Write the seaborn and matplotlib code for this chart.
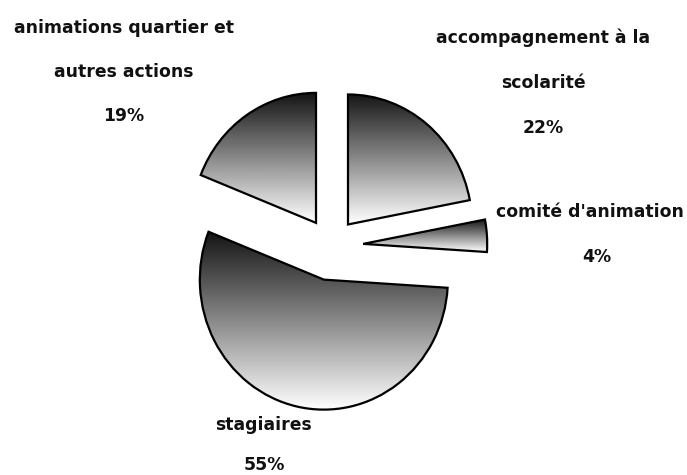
import numpy as np
import matplotlib
matplotlib.use("Agg")
import matplotlib.pyplot as plt
import seaborn as sns

# categories in drawing order (clockwise from 12 o'clock)
categories = ["accompagnement à la\nscolarité", "comité d'animation", "stagiaires",
              "animations quartier et\nautres actions"]
values = [22, 4, 55, 19]
explode = [0.215, 0.26, 0.265, 0.215]

sns.set_style("white")
plt.rcParams["font.family"] = ["DejaVu Sans"]

W, H = 687, 475
fig = plt.figure(figsize=(W / 100, H / 100), dpi=100)

# pie axes: centre of the pie at about (331, 246) px
ax = fig.add_axes([132.6 / W, 34 / H, 396.8 / W, 390 / H])
wedges, _ = ax.pie(values, explode=explode, startangle=90, counterclock=False,
                   wedgeprops=dict(facecolor="none", edgecolor="black", linewidth=1.6))

# vertical grey gradient inside each slice
grad = np.linspace(0.08, 1.0, 256).reshape(-1, 1)
for w in wedges:
    w.set_zorder(3)
    bb = w.get_path().get_extents()
    im = ax.imshow(grad, extent=[bb.x0, bb.x1, bb.y0, bb.y1], origin="upper",
                   cmap="gray", vmin=0, vmax=1, aspect="auto", zorder=2)
    im.set_clip_path(w)

ax.set_xlim(-1.6, 1.6)
ax.set_ylim(-1.5, 1.5)
ax.set_aspect("auto")
ax.axis("off")

# labels: (x px, y px of first line, line gap px, x px of the percent line, alignment)
label_pos = [(543, 38, 45, 543, "center"), (496, 212, 45, 597, "left"),
             (263, 425, 40, 264, "center"), (124, 28, 44, 124, "center")]
for cat, v, (x, y, gap, px, ha) in zip(categories, values, label_pos):
    lines = cat.split("\n") + [f"{v}%"]
    for i, line in enumerate(lines):
        last = i == len(lines) - 1
        fig.text((px if last else x) / W, 1 - (y + i * gap) / H, line,
                 ha="center" if last else ha, va="center",
                 fontsize=12.4, fontweight="bold", color="#111111")

fig.savefig("out.png", dpi=100)
